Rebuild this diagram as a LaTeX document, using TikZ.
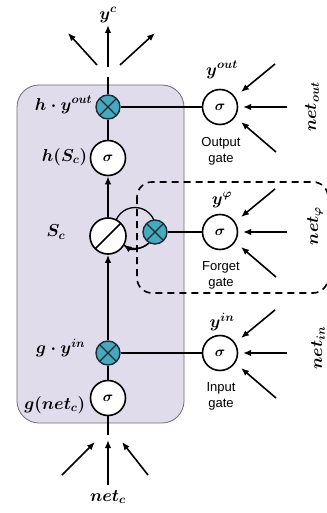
\documentclass[tikz,border=0pt]{standalone}
\usepackage{fontspec}
\newfontfamily\gatefont{Liberation Sans}
\usetikzlibrary{arrows.meta,calc}
\definecolor{boxfill}{RGB}{224,220,236}
\definecolor{boxline}{RGB}{110,110,115}
\definecolor{xteal}{RGB}{72,168,190}
\definecolor{xdark}{RGB}{25,45,55}
\begin{document}
\begin{tikzpicture}[x=1pt,y=-1pt,line width=1.6pt,
  arr/.style={-{Latex[length=8pt,width=6.5pt]},line width=1.6pt},
  sig/.style={circle,draw,fill=white,minimum size=35pt,inner sep=0pt,line width=1.6pt,
    font=\fontsize{15}{15}\selectfont\boldmath},
  mult/.style={circle,draw=xdark,fill=xteal,minimum size=24pt,inner sep=0pt,line width=1.4pt,
    path picture={\draw[xdark,line width=1.4pt]
      (path picture bounding box.north west) -- (path picture bounding box.south east)
      (path picture bounding box.north east) -- (path picture bounding box.south west);}},
  divc/.style={circle,draw,fill=white,minimum size=36pt,inner sep=0pt,line width=1.6pt,
    path picture={\draw[line width=1.6pt]
      (path picture bounding box.south west) -- (path picture bounding box.north east);}},
  lbl/.style={font=\fontsize{17}{17}\selectfont\boldmath,inner sep=0pt},
  gatetxt/.style={font=\gatefont\fontsize{13}{16}\selectfont,align=center,inner sep=0pt}
]
\useasboundingbox (0,0) rectangle (326,513);
% cell block
\draw[draw=boxline,fill=boxfill,line width=0.8pt,rounded corners=22pt] (17,85) rectangle (184,423);
% self loop
\coordinate (loopc) at (135,228);
\draw[line width=1.3pt] (loopc) circle[radius=20.5pt];
% forget gate dashed region
\draw[dash pattern=on 7pt off 5pt,line width=1.6pt,rounded corners=15pt] (137,182) rectangle (328,293);
% main column
\node[mult] (xout) at (108,107) {};
\node[sig] (hs) at (108,158) {$\sigma$};
\node[divc] (sc) at (108,236) {};
\node[mult] (xf) at (155,232) {};
\node[mult] (xin) at (108,353) {};
\node[sig] (gs) at (108,398) {$\sigma$};
% gates
\node[sig] (sout) at (220,107) {$\sigma$};
\node[sig] (sf) at (220,232) {$\sigma$};
\node[sig] (sin) at (220,353) {$\sigma$};
% connections
\coordinate (topend) at (108,77);
\coordinate (botend) at (108,435);
\draw (xout) -- (topend);
\draw (xout) -- (hs);
\draw[arr] (sc) -- (hs);
\draw[arr] (xin) -- (sc);
\draw (xin) -- (gs);
\draw (gs) -- (botend);
\draw (xout) -- (sout);
\draw (xf) -- (sf);
\draw (xin) -- (sin);
\draw[arr,line width=1.3pt] ($(loopc)+(50:20.5)$) arc[start angle=-50,end angle=-124,radius=20.5pt];
% output arrows at top
\coordinate (tl0) at (97,65);  \coordinate (tl1) at (68,33);
\coordinate (tc0) at (108,67); \coordinate (tc1) at (108,25);
\coordinate (tr0) at (120,65); \coordinate (tr1) at (155,33);
\draw[arr] (tl0) -- (tl1);
\draw[arr] (tc0) -- (tc1);
\draw[arr] (tr0) -- (tr1);
% input arrows at bottom
\coordinate (bl0) at (62,475);  \coordinate (bl1) at (95,442);
\coordinate (bc0) at (108,485); \coordinate (bc1) at (108,440);
\coordinate (br0) at (148,475); \coordinate (br1) at (122,442);
\draw[arr] (bl0) -- (bl1);
\draw[arr] (bc0) -- (bc1);
\draw[arr] (br0) -- (br1);
% gate input arrows
\foreach \g/\yy in {o/107,f/232,i/353}{
  \coordinate (\g a0) at (275,\yy-43); \coordinate (\g a1) at (241,\yy-15);
  \coordinate (\g b0) at (287,\yy);    \coordinate (\g b1) at (243,\yy);
  \coordinate (\g c0) at (276,\yy+45); \coordinate (\g c1) at (241,\yy+15);
  \draw[arr] (\g a0) -- (\g a1);
  \draw[arr] (\g b0) -- (\g b1);
  \draw[arr] (\g c0) -- (\g c1);
}
% labels
\node[lbl] (lyc) at (108,15) {$y^c$};
\node[lbl,anchor=east] (lhy) at (93,105) {$h\cdot y^{out}$};
\node[lbl,anchor=east] (lhs) at (88,157) {$h(S_c)$};
\node[lbl] (lsc) at (56,232) {$S_c$};
\node[lbl,anchor=east] (lgy) at (86,348) {$g\cdot y^{in}$};
\node[lbl,anchor=east] (lgn) at (86,405) {$g(net_c)$};
\node[lbl] (lnc) at (108,497) {$net_c$};
\node[lbl] (lyo) at (222,70) {$y^{out}$};
\node[lbl] (lyf) at (222,200) {$y^{\varphi}$};
\node[lbl] (lyi) at (222,322) {$y^{in}$};
\node[lbl,rotate=90] (lno) at (312,107) {$net_{out}$};
\node[lbl,rotate=90] (lnf) at (315,226) {$net_{\varphi}$};
\node[lbl,rotate=90] (lni) at (318,348) {$net_{in}$};
\node[gatetxt] (go) at (221,151) {Output\\gate};
\node[gatetxt] (gf) at (221,275) {Forget\\gate};
\node[gatetxt] (gi) at (221,396) {Input\\gate};
\end{tikzpicture}
\end{document}
